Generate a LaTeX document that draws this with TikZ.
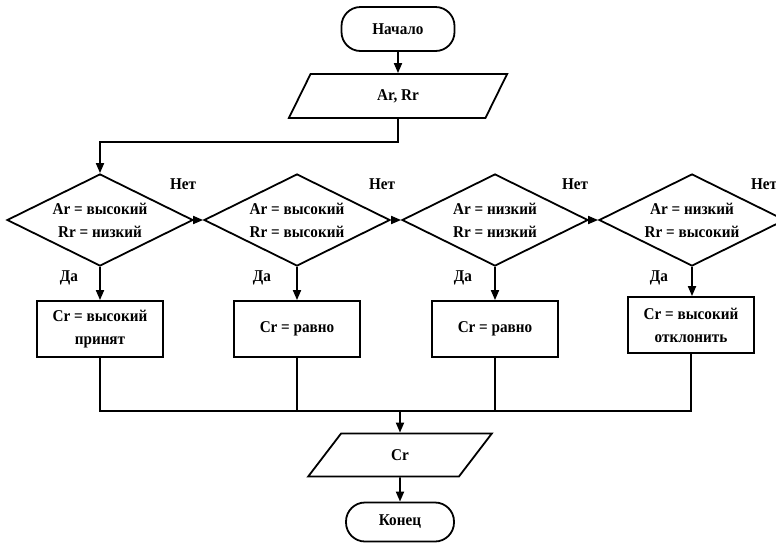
\documentclass[tikz,border=0pt]{standalone}
\usepackage{fontspec}
\setmainfont[FakeStretch=0.92]{Liberation Serif}
\usetikzlibrary{shapes.geometric,arrows.meta}

\begin{document}
\begin{tikzpicture}[x=1pt,y=-1pt,line width=1.8pt,
  every node/.style={font=\bfseries\fontsize{16.5}{23}\selectfont},
  flow/.style={-{Triangle[length=10pt,width=8pt]}},
  term/.style={draw,rounded corners=19pt,inner sep=0pt},
  io/.style={draw,trapezium,trapezium stretches=true,inner sep=0pt},
  cond/.style={draw,diamond,aspect=2,minimum width=186pt,minimum height=92pt,inner sep=0pt,align=center},
  proc/.style={draw,minimum width=126pt,minimum height=56pt,inner sep=0pt,align=center},
  lbl/.style={inner sep=0pt}]
\useasboundingbox (0,0) rectangle (776,547);
\clip (0,0) rectangle (776,547);

% terminals and input/output blocks
\node[term,minimum width=113pt,minimum height=44pt] (start) at (398,29) {Начало};
\node[io,trapezium left angle=69,trapezium right angle=111,
      minimum width=219pt,minimum height=44pt] (inp) at (398,96) {Ar, Rr};
\node[io,trapezium left angle=66,trapezium right angle=114,
      minimum width=184pt,minimum height=43pt] (out) at (400,455) {Cr};
\node[term,minimum width=108pt,minimum height=39pt] (stop) at (400,522) {Конец};

% decisions
\node[cond] (d1) at (100,220) {Ar = высокий\\Rr = низкий};
\node[cond] (d2) at (297,220) {Ar = высокий\\Rr = высокий};
\node[cond] (d3) at (495,220) {Ar = низкий\\Rr = низкий};
\node[cond] (d4) at (692,220) {Ar = низкий\\Rr = высокий};

% results
\node[proc] (b1) at (100,329) {Cr = высокий\\принят};
\node[proc] (b2) at (297,329) {Cr = равно};
\node[proc] (b3) at (495,329) {Cr = равно};
\node[proc] (b4) at (691,325) {Cr = высокий\\отклонить};

% branch labels
\node[lbl] (n1) at (183,184) {Нет};
\node[lbl] (n2) at (382,184) {Нет};
\node[lbl] (n3) at (575,184) {Нет};
\node[lbl] (n4) at (764,184) {Нет};
\node[lbl] (y1) at (69,278) {Да};
\node[lbl] (y2) at (262,278) {Да};
\node[lbl] (y3) at (463,278) {Да};
\node[lbl] (y4) at (659,278) {Да};

\coordinate (m) at (400,411);

% connectors
\draw[flow] (start) -- (inp);
\draw[flow] (inp.south) -- ++(0,23) -| (d1.north);
\draw[flow] (d1.east) -- (d2.west);
\draw[flow] (d2.east) -- (d3.west);
\draw[flow] (d3.east) -- (d4.west);
\draw[flow] (d1.south) -- (b1.north);
\draw[flow] (d2.south) -- (b2.north);
\draw[flow] (d3.south) -- (b3.north);
\draw[flow] (d4.south) -- (b4.north -| d4.south);
\draw (b1.south) |- (b4.south |- m) -- (b4.south);
\draw (b2.south) -- (b2.south |- m);
\draw (b3.south) -- (b3.south |- m);
\draw[flow] (m) -- (out.north -| m);
\draw[flow] (out) -- (stop);
\end{tikzpicture}
\end{document}
